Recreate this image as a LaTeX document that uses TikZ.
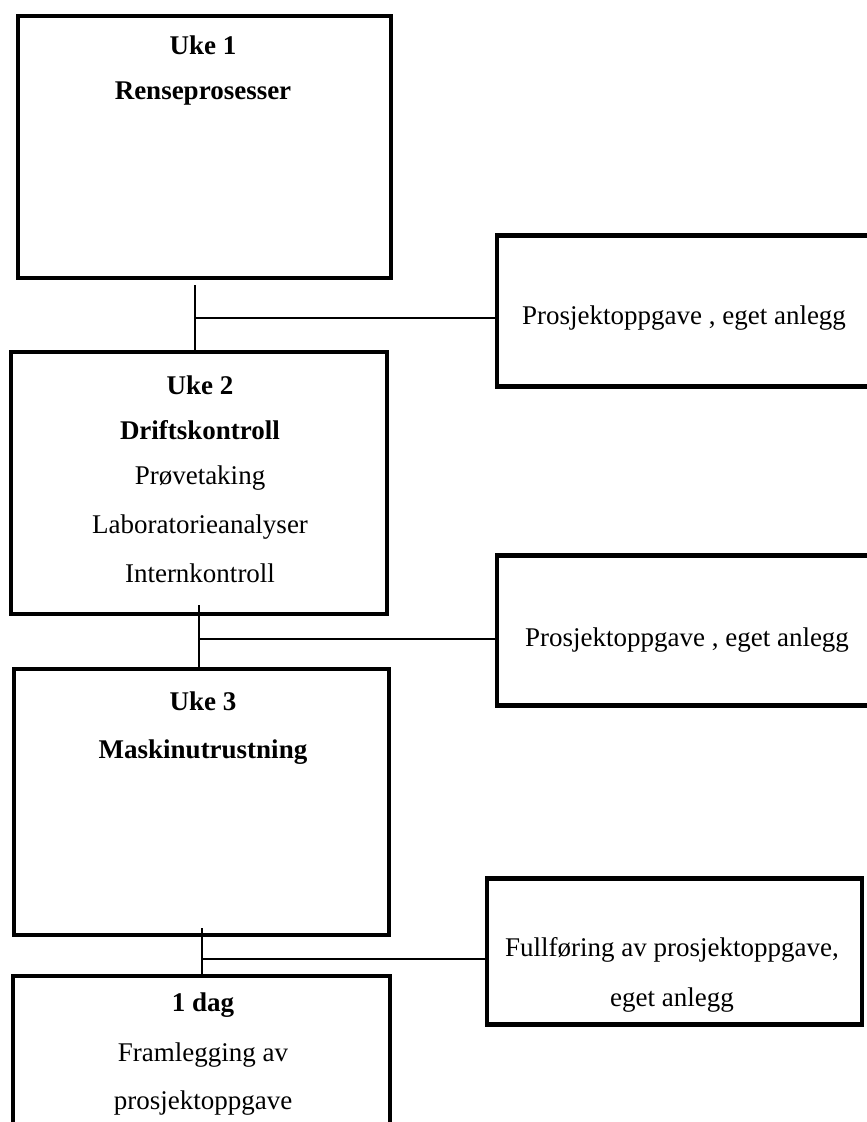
\documentclass[tikz,border=0pt]{standalone}
\usepackage{fontspec}
\setmainfont{Liberation Serif}

\begin{document}
\begin{tikzpicture}[x=1pt, y=-1pt, line cap=butt, line join=miter,
    box/.style={draw, line width=4.5pt, inner sep=0pt},
    link/.style={line width=1.5pt},
    head/.style={anchor=center, inner sep=0pt, font=\fontsize{27}{32}\selectfont\bfseries},
    body/.style={anchor=center, inner sep=0pt, font=\fontsize{27}{32}\selectfont}]

  %% ==== venstre kolonne: ukene ====
  \node[box, minimum width=373pt, minimum height=262pt] (uke1) at (204.5,147.0) {};
  \node[box, minimum width=376pt, minimum height=262pt] (uke2) at (199.0,483.0) {};
  \node[box, minimum width=375pt, minimum height=266pt] (uke3) at (201.5,802.0) {};
  \node[box, minimum width=377pt, minimum height=184pt] (dag)  at (201.5,1068.0) {};

  %% ==== høyre kolonne: prosjektoppgaven ====
  \node[box, minimum width=383pt, minimum height=151pt] (prosj1) at (688.5,311.0) {};
  \node[box, minimum width=383pt, minimum height=150pt] (prosj2) at (688.5,630.5) {};
  \node[box, minimum width=375pt, minimum height=146pt] (prosj3) at (674.5,951.5) {};

  %% ==== tekst ====
  \node[head] (u1a) at (203.0,45.0)  {Uke 1};
  \node[head] (u1b) at (203.0,94.0)  {Renseprosesser};

  \node[head] (u2a) at (200.0,385.0) {Uke 2};
  \node[head] (u2b) at (200.0,430.0) {Driftskontroll};
  \node[body] (u2c) at (200.0,478.0) {Prøvetaking};
  \node[body] (u2d) at (200.0,527.0) {Laboratorieanalyser};
  \node[body] (u2e) at (200.0,573.0) {Internkontroll};

  \node[head] (u3a) at (203.0,701.0) {Uke 3};
  \node[head] (u3b) at (203.0,752.0) {Maskinutrustning};

  \node[head] (d1)  at (203.0,1005.0) {1 dag};
  \node[body] (d2)  at (203.0,1055.0) {Framlegging av};
  \node[body] (d3)  at (203.0,1103.0) {prosjektoppgave};

  \node[body] (p1)  at (684.0,318.0) {Prosjektoppgave , eget anlegg};
  \node[body] (p2)  at (687.0,640.0) {Prosjektoppgave , eget anlegg};
  \node[body] (p3a) at (672.0,950.0) {Fullføring av prosjektoppgave,};
  \node[body] (p3b) at (672.0,1000.0) {eget anlegg};

  %% ==== forbindelser ====
  \coordinate (s1) at (195.0,285.0);
  \coordinate (j1) at (195.0,318.0);
  \draw[link] (s1) -- (s1 |- uke2.north);
  \draw[link] (j1) -- (j1 -| prosj1.west);

  \coordinate (s2) at (199.0,605.0);
  \coordinate (j2) at (199.0,639.0);
  \draw[link] (s2) -- (s2 |- uke3.north);
  \draw[link] (j2) -- (j2 -| prosj2.west);

  \coordinate (s3) at (202.0,928.0);
  \coordinate (j3) at (202.0,959.0);
  \draw[link] (s3) -- (s3 |- dag.north);
  \draw[link] (j3) -- (j3 -| prosj3.west);

  % fast lerret
  \pgfresetboundingbox
  \path[use as bounding box] (0,0) rectangle (867,1122);
\end{tikzpicture}
\end{document}
